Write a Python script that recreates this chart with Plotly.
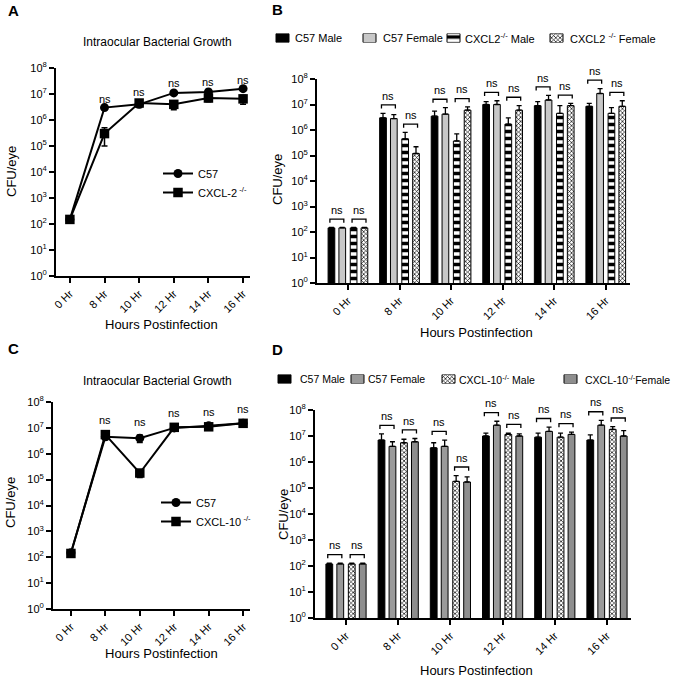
import math
import plotly.graph_objects as go

# ---------------- data ----------------
hours = ["0 Hr", "8 Hr", "10 Hr", "12 Hr", "14 Hr", "16 Hr"]
idx = list(range(len(hours)))

# Panel A (line)
a_c57 = [150, 3.0e6, 4.0e6, 1.1e7, 1.2e7, 1.6e7]
a_c57_err = [10, 3e5, 8e5, 2e6, 2e6, 2e6]
a_ko = [150, 3.0e5, 4.5e6, 4.0e6, 7.0e6, 6.5e6]
a_ko_err = [10, 2.0e5, 1.5e6, 1.5e6, 2.0e6, 2.5e6]

# Panel B (bars)
b_c57m = [145, 3.0e6, 3.5e6, 1.0e7, 9.0e6, 8.5e6]
b_c57m_err = [5, 1.5e6, 2.0e6, 3.0e6, 4.0e6, 2.5e6]
b_c57f = [145, 2.8e6, 4.2e6, 1.0e7, 1.5e7, 2.7e7]
b_c57f_err = [5, 1.2e6, 3.3e6, 4.0e6, 8.0e6, 1.5e7]
b_kom = [145, 4.5e5, 3.7e5, 1.7e6, 4.5e6, 4.5e6]
b_kom_err = [5, 3.5e5, 3.3e5, 1.3e6, 4.5e6, 3.0e6]
b_kof = [145, 1.2e5, 6.0e6, 6.0e6, 9.0e6, 8.5e6]
b_kof_err = [5, 1.0e5, 2.0e6, 3.0e6, 2.0e6, 5.5e6]

# Panel C (line)
c_c57 = [150, 4.5e6, 4.0e6, 1.0e7, 1.2e7, 1.5e7]
c_c57_err = [10, 1e6, 1.3e6, 1.5e6, 1.5e6, 2e6]
c_ko = [140, 5.5e6, 1.8e5, 1.05e7, 1.1e7, 1.5e7]
c_ko_err = [10, 1e6, 6e4, 1.5e6, 1.5e6, 2e6]

# Panel D (bars)
d_c57m = [120, 7.0e6, 3.5e6, 1.0e7, 9.0e6, 7.0e6]
d_c57m_err = [8, 5.0e6, 2.0e6, 3.0e6, 4.0e6, 4.0e6]
d_c57f = [120, 4.0e6, 4.0e6, 2.6e7, 1.5e7, 2.6e7]
d_c57f_err = [8, 2.0e6, 3.0e6, 1.1e7, 7.0e6, 1.4e7]
d_kom = [120, 5.5e6, 1.8e5, 1.15e7, 9.0e6, 1.8e7]
d_kom_err = [8, 2.0e6, 1.2e5, 1.5e6, 4.0e6, 5.0e6]
d_kof = [120, 6.0e6, 1.7e5, 1.0e7, 1.15e7, 1.0e7]
d_kof_err = [8, 2.0e6, 1.0e5, 2.0e6, 2.5e6, 6.0e6]

ytick_vals = [10 ** k for k in range(9)]
ytick_text = ["10<sup>%d</sup>" % k for k in range(9)]
YMAX_DEC = 8

FONT = "Arial, Liberation Sans, sans-serif"
W, H = 680, 678
def px_x(p): return p / W
def px_y(p): return 1 - p / H

fig = go.Figure()
ann = []

def ns_label(x, yval, xa, ya):
    # place in axis-domain units so labels above the axis top still show
    ann.append(dict(text="ns", x=x, y=math.log10(yval) / YMAX_DEC,
                    xref=xa, yref=ya + " domain", showarrow=False,
                    xanchor="center", yanchor="middle",
                    font=dict(size=11, color="black", family=FONT)))

# ---------------- line panels ----------------
def add_lines(series, xa, ya, legend_id, ko_name):
    (v1, e1), (v2, e2) = series
    fig.add_trace(go.Scatter(
        x=idx, y=v1, mode="lines+markers", name="C57",
        line=dict(color="black", width=2),
        marker=dict(symbol="circle", size=9, color="black"),
        error_y=dict(type="data", array=e1, color="black", thickness=1.5, width=3),
        xaxis=xa, yaxis=ya, legend=legend_id, cliponaxis=False))
    fig.add_trace(go.Scatter(
        x=idx, y=v2, mode="lines+markers", name=ko_name,
        line=dict(color="black", width=2),
        marker=dict(symbol="square", size=9.5, color="black"),
        error_y=dict(type="data", array=e2, color="black", thickness=1.5, width=3),
        xaxis=xa, yaxis=ya, legend=legend_id, cliponaxis=False))

add_lines([(a_c57, a_c57_err), (a_ko, a_ko_err)], "x", "y", "legend", "CXCL-2<sup> -/-</sup>")
add_lines([(c_c57, c_c57_err), (c_ko, c_ko_err)], "x3", "y3", "legend3", "CXCL-10<sup> -/-</sup>")

def ns_for_lines(v1, v2, e1, e2, xa, ya, factor):
    for i in idx[1:]:
        top = max(v1[i] + e1[i], v2[i] + e2[i])
        ns_label(i, top * factor, xa, ya)

ns_for_lines(a_c57, a_ko, a_c57_err, a_ko_err, "x", "y", 10 ** 0.3)
ns_for_lines(c_c57, c_ko, c_c57_err, c_ko_err, "x3", "y3", 10 ** 0.5)

# ---------------- bar panels ----------------
offsets = [-0.32, -0.11, 0.11, 0.32]
bw = 0.13

def add_bars(groups, xa, ya):
    tops = []
    for k, (name, vals, errs, mk) in enumerate(groups):
        fig.add_trace(go.Bar(
            x=[i + offsets[k] for i in idx], y=vals, width=bw, name=name,
            marker=mk, showlegend=False,
            error_y=dict(type="data", symmetric=False, array=errs,
                         arrayminus=[0] * len(errs), color="black", thickness=1.3, width=2.5),
            xaxis=xa, yaxis=ya))
        tops.append([v + e for v, e in zip(vals, errs)])
    # brackets + ns
    bx, by = [], []
    for i in idx:
        for (p, q) in [(0, 1), (2, 3)]:
            h = max(tops[p][i], tops[q][i]) * 10 ** 0.33
            leg = h / 10 ** 0.14
            x0 = i + offsets[p] - 0.03
            x1 = i + offsets[q] + 0.03
            bx += [x0, x0, x1, x1, None]
            by += [leg, h, h, leg, None]
            ns_label((x0 + x1) / 2, h * 10 ** 0.36, xa, ya)
    fig.add_trace(go.Scatter(x=bx, y=by, mode="lines", line=dict(color="black", width=1.3),
                             showlegend=False, xaxis=xa, yaxis=ya, hoverinfo="skip",
                             cliponaxis=False))

line = dict(color="black", width=1)
b_groups = [
    ("C57 Male", b_c57m, b_c57m_err, dict(color="black", line=line)),
    ("C57 Female", b_c57f, b_c57f_err, dict(color="#c8c8c8", line=line)),
    ("CXCL2<sup>-/-</sup> Male", b_kom, b_kom_err,
     dict(color="white", line=line, pattern=dict(shape="-", fgcolor="black", bgcolor="white", size=7, solidity=0.5))),
    ("CXCL2 <sup>-/-</sup> Female", b_kof, b_kof_err,
     dict(color="white", line=line, pattern=dict(shape="x", fgcolor="black", bgcolor="white", size=3, solidity=0.4))),
]
d_groups = [
    ("C57 Male", d_c57m, d_c57m_err, dict(color="black", line=line)),
    ("C57 Female", d_c57f, d_c57f_err, dict(color="#9a9a9a", line=line)),
    ("CXCL-10<sup>-/-</sup> Male", d_kom, d_kom_err,
     dict(color="white", line=line, pattern=dict(shape="x", fgcolor="black", bgcolor="white", size=3, solidity=0.4))),
    ("CXCL-10<sup>-/-</sup>Female", d_kof, d_kof_err,
     dict(color="#aaaaaa", line=line, pattern=dict(shape=".", fgcolor="#555555", bgcolor="#bbbbbb", size=2, solidity=0.5))),
]
add_bars(b_groups, "x2", "y2")
add_bars(d_groups, "x4", "y4")

# ---------------- custom legends for bar panels ----------------
def add_text(text, x, y, size, bold=False, angle=0, xanchor="center"):
    ann.append(dict(text=("<b>%s</b>" % text) if bold else text, x=px_x(x), y=px_y(y),
                    xref="paper", yref="paper", showarrow=False, textangle=angle,
                    font=dict(size=size, color="black", family=FONT),
                    xanchor=xanchor, yanchor="middle"))

b_swatch_x = [276, 363, 447, 550]
b_text_x = [293, 381, 463, 568]
d_swatch_x = [278, 351, 442, 564]
d_text_x = [298, 366, 457, 583]

def add_legend_row(groups, swatch_x, text_x, xa, ya, fsize):
    for k, (name, vals, errs, mk) in enumerate(groups):
        fig.add_trace(go.Bar(x=[swatch_x[k] + 6.5], y=[1], width=13, marker=mk,
                             showlegend=False, hoverinfo="skip", xaxis=xa, yaxis=ya))
        ann.append(dict(text=name, x=text_x[k], y=0.5, xref=xa, yref=ya,
                        showarrow=False, xanchor="left", yanchor="middle",
                        font=dict(size=fsize, color="black", family=FONT)))

add_legend_row(b_groups, b_swatch_x, b_text_x, "x5", "y5", 11)
add_legend_row(d_groups, d_swatch_x, d_text_x, "x6", "y6", 10.5)

# ---------------- axes ----------------
xcommon = dict(tickmode="array", tickvals=idx, ticktext=hours, tickangle=-45,
               showline=True, linecolor="black", linewidth=2, ticks="outside",
               ticklen=5, tickwidth=2, tickcolor="black", showgrid=False, zeroline=False,
               tickfont=dict(size=11, color="black", family=FONT))
ycommon = dict(type="log", range=[0, YMAX_DEC], tickmode="array", tickvals=ytick_vals, ticktext=ytick_text,
               showline=True, linecolor="black", linewidth=2, ticks="outside",
               ticklen=5, tickwidth=2, tickcolor="black", showgrid=False, zeroline=False,
               tickfont=dict(size=11, color="black", family=FONT))
hidden = dict(visible=False, showgrid=False, zeroline=False, fixedrange=True)

fig.update_layout(
    xaxis=dict(xcommon, domain=[px_x(56), px_x(250)], range=[-0.4, 5.2], anchor="y"),
    yaxis=dict(ycommon, domain=[px_y(276), px_y(68)], anchor="x"),
    xaxis2=dict(xcommon, domain=[px_x(317), px_x(630)], range=[-0.6, 5.47], anchor="y2"),
    yaxis2=dict(ycommon, domain=[px_y(283), px_y(79)], anchor="x2"),
    xaxis3=dict(xcommon, domain=[px_x(53), px_x(250)], range=[-0.52, 5.2], anchor="y3"),
    yaxis3=dict(ycommon, domain=[px_y(609), px_y(402)], anchor="x3"),
    xaxis4=dict(xcommon, domain=[px_x(315), px_x(631)], range=[-0.594, 5.46], anchor="y4"),
    yaxis4=dict(ycommon, domain=[px_y(618), px_y(410)], anchor="x4"),
    xaxis5=dict(hidden, domain=[0, 1], range=[0, W], anchor="y5"),
    yaxis5=dict(hidden, domain=[px_y(42.5), px_y(33.5)], range=[0, 1], anchor="x5"),
    xaxis6=dict(hidden, domain=[0, 1], range=[0, W], anchor="y6"),
    yaxis6=dict(hidden, domain=[px_y(383.5), px_y(374.5)], range=[0, 1], anchor="x6"),
)

leg_font = dict(size=11, color="black", family=FONT)
fig.update_layout(
    legend=dict(x=px_x(158), y=px_y(159), xanchor="left", yanchor="top", font=leg_font,
                bgcolor="rgba(0,0,0,0)"),
    legend3=dict(x=px_x(156), y=px_y(488), xanchor="left", yanchor="top", font=leg_font,
                 bgcolor="rgba(0,0,0,0)"),
)

# ---------------- text annotations ----------------
add_text("A", 13, 11, 15, bold=True)
add_text("B", 277, 10, 15, bold=True)
add_text("C", 13, 348, 15, bold=True)
add_text("D", 277, 349, 15, bold=True)
add_text("Intraocular Bacterial Growth", 157, 42, 12)
add_text("Intraocular Bacterial Growth", 157, 381, 12)
add_text("CFU/eye", 11, 172, 13, angle=-90)
add_text("CFU/eye", 278, 180, 13, angle=-90)
add_text("CFU/eye", 10, 503, 13, angle=-90)
add_text("CFU/eye", 283, 515, 13, angle=-90)
add_text("Hours Postinfection", 161, 324, 13)
add_text("Hours Postinfection", 477, 332, 13)
add_text("Hours Postinfection", 161, 653, 13)
add_text("Hours Postinfection", 477, 670, 13)

fig.update_layout(
    template="none",
    annotations=ann, width=W, height=H, margin=dict(l=0, r=0, t=0, b=0),
    paper_bgcolor="white", plot_bgcolor="rgba(0,0,0,0)", barmode="overlay",
    font=dict(family=FONT, color="black"),
)

fig.write_html("out.html", config={"displayModeBar": False},
               post_script="document.body.style.margin='0px';document.body.style.overflow='hidden';")
